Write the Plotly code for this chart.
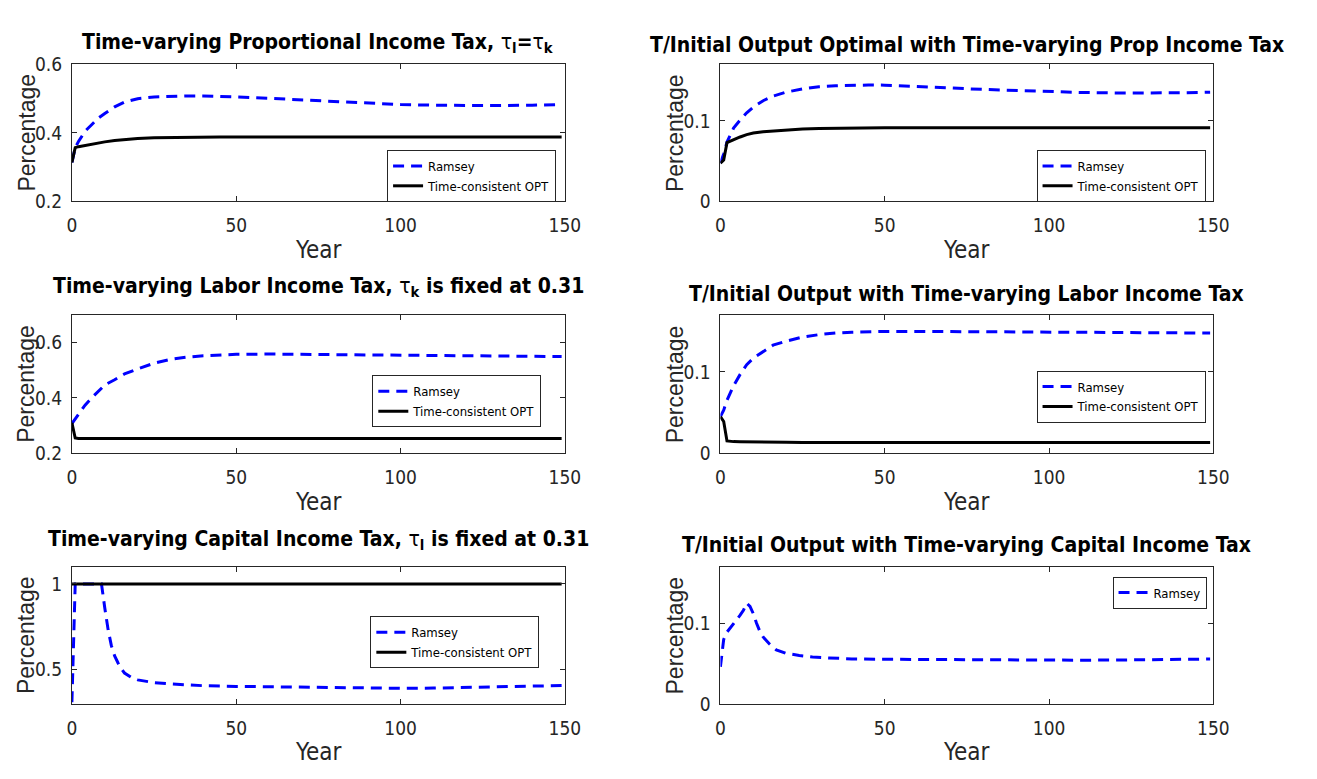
import plotly.graph_objects as go

W, H = 1317, 779

# ---------------- data ----------------
yr_a = [0, 1, 2, 3, 4, 6, 8, 10, 13, 16, 20, 25, 30, 35, 40, 45, 50, 60, 70, 80, 90, 100, 110, 120, 130, 140, 149]

p1_ramsey = [0.314, 0.357, 0.375, 0.390, 0.405, 0.424, 0.443, 0.457, 0.476, 0.490, 0.500, 0.505, 0.507, 0.508, 0.508,
             0.507, 0.505, 0.501, 0.496, 0.491, 0.487, 0.483, 0.481, 0.480, 0.480, 0.481, 0.483]
p1_tc = [0.314, 0.357, 0.360, 0.362, 0.364, 0.368, 0.371, 0.374, 0.378, 0.381, 0.384, 0.386, 0.387, 0.388, 0.388,
         0.388, 0.388, 0.388, 0.388, 0.388, 0.388, 0.388, 0.388, 0.388, 0.388, 0.388, 0.388]

p2_ramsey = [0.0475, 0.059, 0.0737, 0.083, 0.091, 0.101, 0.110, 0.117, 0.125, 0.1306, 0.1357, 0.1396, 0.1424, 0.1435,
             0.1443, 0.1445, 0.1443, 0.1430, 0.1408, 0.1390, 0.1375, 0.1362, 0.1352, 0.1346, 0.1344, 0.1348, 0.1355]
p2_tc = [0.0475, 0.0514, 0.073, 0.075, 0.077, 0.080, 0.083, 0.085, 0.0865, 0.0875, 0.0886, 0.0898, 0.0906, 0.0910,
         0.0914, 0.0914, 0.0914, 0.0914, 0.0914, 0.0914, 0.0914, 0.0914, 0.0914, 0.0914, 0.0914, 0.0914, 0.0914]

p3_ramsey = [0.307, 0.324, 0.342, 0.359, 0.374, 0.400, 0.423, 0.447, 0.466, 0.487, 0.505, 0.526, 0.540, 0.548, 0.553,
             0.556, 0.558, 0.559, 0.558, 0.557, 0.555, 0.553, 0.552, 0.551, 0.550, 0.550, 0.550]
p3_tc = [0.310, 0.255, 0.253, 0.253, 0.253, 0.253, 0.253, 0.253, 0.253, 0.253, 0.253, 0.253, 0.253, 0.253, 0.253,
         0.253, 0.253, 0.253, 0.253, 0.253, 0.253, 0.253, 0.253, 0.253, 0.253, 0.253, 0.253]

p4_ramsey = [0.045, 0.053, 0.065, 0.075, 0.083, 0.097, 0.109, 0.117, 0.125, 0.133, 0.138, 0.143, 0.146, 0.148, 0.149,
             0.1495, 0.150, 0.150, 0.1498, 0.1495, 0.1492, 0.149, 0.1487, 0.1485, 0.1483, 0.1482, 0.148]
p4_tc = [0.045, 0.039, 0.015, 0.0145, 0.0142, 0.0140, 0.0138, 0.0137, 0.0135, 0.0134, 0.0133, 0.0132, 0.0131, 0.0130,
         0.0130, 0.0130, 0.0130, 0.0130, 0.0130, 0.0130, 0.0130, 0.0130, 0.0130, 0.0130, 0.0130, 0.0130, 0.0130]

yr_5 = [0, 1, 2, 4, 6, 8, 9, 10, 11, 12, 13, 14, 15, 16, 18, 20, 22, 25, 30, 35, 40, 50, 60, 70, 80, 90, 100, 110,
        120, 130, 140, 149]
p5_ramsey = [0.31, 1.0, 1.0, 1.0, 1.0, 1.0, 1.0, 0.86, 0.735, 0.64, 0.58, 0.54, 0.505, 0.48, 0.455, 0.44, 0.432,
             0.424, 0.416, 0.411, 0.406, 0.402, 0.399, 0.396, 0.393, 0.392, 0.391, 0.392, 0.395, 0.399, 0.403, 0.407]
yr_5tc = [0, 149]
p5_tc = [1.0, 1.0]

yr_6 = [0, 1, 2, 3, 4, 5, 6, 7, 8, 9, 10, 11, 12, 13, 14, 15, 17, 20, 24, 28, 33, 40, 50, 60, 70, 80, 90, 100, 110,
        120, 130, 140, 149]
p6_ramsey = [0.046, 0.080, 0.089, 0.094, 0.099, 0.104, 0.110, 0.116, 0.125, 0.121, 0.112, 0.100, 0.090, 0.083,
             0.078, 0.074, 0.067, 0.0627, 0.060, 0.0582, 0.057, 0.0558, 0.0553, 0.0550, 0.0547, 0.0545, 0.0543,
             0.0542, 0.0542, 0.0544, 0.0548, 0.0552, 0.0556]

x_ticks = [0, 50, 100, 150]
y_ticks = {1: [0.2, 0.4, 0.6], 2: [0, 0.1], 3: [0.2, 0.4, 0.6], 4: [0, 0.1], 5: [0.5, 1], 6: [0, 0.1]}
y_ticktext = {1: ["0.2", "0.4", "0.6"], 2: ["0", "0.1"], 3: ["0.2", "0.4", "0.6"], 4: ["0", "0.1"],
              5: ["0.5", "1"], 6: ["0", "0.1"]}
y_ranges = {1: [0.2, 0.6], 2: [0, 0.17], 3: [0.2, 0.7], 4: [0, 0.17], 5: [0.3, 1.1], 6: [0, 0.17]}

titles = {
    1: "<b>Time-varying Proportional Income Tax, </b>τ<sub><b>l</b></sub><b>=</b>τ<sub><b>k</b></sub>",
    2: "<b>T/Initial Output Optimal with Time-varying Prop Income Tax</b>",
    3: "<b>Time-varying Labor Income Tax, </b>τ<sub><b>k</b></sub><b> is fixed at 0.31</b>",
    4: "<b>T/Initial Output with Time-varying Labor Income Tax</b>",
    5: "<b>Time-varying Capital Income Tax, </b>τ<sub><b>l</b></sub><b> is fixed at 0.31</b>",
    6: "<b>T/Initial Output with Time-varying Capital Income Tax</b>",
}

# ---------------- styling / layout ----------------
NARROW = "DejaVu Sans Condensed, Liberation Sans Narrow, sans-serif"
REG = "Liberation Sans, Arial, sans-serif"
AX = "#262626"
BLUE = "#0000ff"

col_px = {0: (68, 569), 1: (727, 1228)}
row_px = {0: (55, 196), 1: (313, 455), 2: (572, 713)}
panel_pos = {1: (0, 0), 2: (0, 1), 3: (1, 0), 4: (1, 1), 5: (2, 0), 6: (2, 1)}
title_y = {1: 33, 2: 35, 3: 284, 4: 291, 5: 544, 6: 550}
legend_box = {1: (560, 143), 2: (1220, 143), 3: (545, 375), 4: (1220, 370), 5: (543, 623), 6: (1221, 582)}

def px_x(v):
    return v / W

def px_y(v):
    return 1 - v / H

fig = go.Figure()

series = {
    1: [(yr_a, p1_ramsey, "Ramsey"), (yr_a, p1_tc, "Time-consistent OPT")],
    2: [(yr_a, p2_ramsey, "Ramsey"), (yr_a, p2_tc, "Time-consistent OPT")],
    3: [(yr_a, p3_ramsey, "Ramsey"), (yr_a, p3_tc, "Time-consistent OPT")],
    4: [(yr_a, p4_ramsey, "Ramsey"), (yr_a, p4_tc, "Time-consistent OPT")],
    5: [(yr_5, p5_ramsey, "Ramsey"), (yr_5tc, p5_tc, "Time-consistent OPT")],
    6: [(yr_6, p6_ramsey, "Ramsey")],
}

layout = dict(
    width=W, height=H, margin=dict(l=0, r=0, t=0, b=0),
    paper_bgcolor="white", plot_bgcolor="white",
    font=dict(family=NARROW, color=AX),
    annotations=[],
)

for p in range(1, 7):
    r, c = panel_pos[p]
    sfx = "" if p == 1 else str(p)
    leg = "legend" if p == 1 else f"legend{p}"
    for xs, ys, name in series[p]:
        ramsey = name == "Ramsey"
        fig.add_trace(go.Scatter(
            x=xs, y=ys, name=name, mode="lines",
            line=dict(color=BLUE if ramsey else "black", width=3,
                      dash="11px,7px" if ramsey else "solid"),
            xaxis="x" + sfx, yaxis="y" + sfx, legend=leg, showlegend=True,
        ))
    x0, x1 = col_px[c]
    y0, y1 = row_px[r]
    layout["xaxis" + sfx] = dict(
        domain=[px_x(x0), px_x(x1)], anchor="y" + sfx, range=[0, 150],
        tickvals=x_ticks, ticks="inside", ticklen=5, tickcolor=AX,
        showline=True, linecolor=AX, linewidth=1, mirror="ticks",
        showgrid=False, zeroline=False, ticklabelstandoff=7,
        tickfont=dict(family=NARROW, size=19, color=AX),
    )
    layout["yaxis" + sfx] = dict(
        domain=[px_y(y1), px_y(y0)], anchor="x" + sfx, range=y_ranges[p],
        tickvals=y_ticks[p], ticktext=y_ticktext[p], ticks="inside", ticklen=5, tickcolor=AX,
        showline=True, linecolor=AX, linewidth=1, mirror="ticks",
        showgrid=False, zeroline=False, ticklabelstandoff=5,
        tickfont=dict(family=NARROW, size=19, color=AX),
    )
    lx, ly = legend_box[p]
    layout[leg] = dict(
        x=px_x(lx), y=px_y(ly), xanchor="right", yanchor="top",
        bgcolor="white", bordercolor=AX, borderwidth=1,
        font=dict(family=NARROW, size=13, color="black"),
        itemwidth=30, tracegroupgap=0,
    )
    cx = (x0 + x1) / 2
    layout["annotations"].append(dict(
        text=titles[p], x=px_x(cx), y=px_y(title_y[p]), xref="paper", yref="paper",
        xanchor="center", yanchor="middle", showarrow=False,
        font=dict(family=NARROW, size=21, color="black"),
    ))
    layout["annotations"].append(dict(
        text="Percentage", x=px_x(x0 - 46), y=px_y((y0 + y1) / 2), xref="paper", yref="paper",
        xanchor="center", yanchor="middle", showarrow=False, textangle=-90,
        font=dict(family=REG, size=23, color=AX),
    ))
    layout["annotations"].append(dict(
        text="Year", x=px_x(cx), y=px_y(y1 + 50), xref="paper", yref="paper",
        xanchor="center", yanchor="middle", showarrow=False,
        font=dict(family=NARROW, size=24, color=AX),
    ))

fig.update_layout(**layout)
fig.write_html("out.html")
